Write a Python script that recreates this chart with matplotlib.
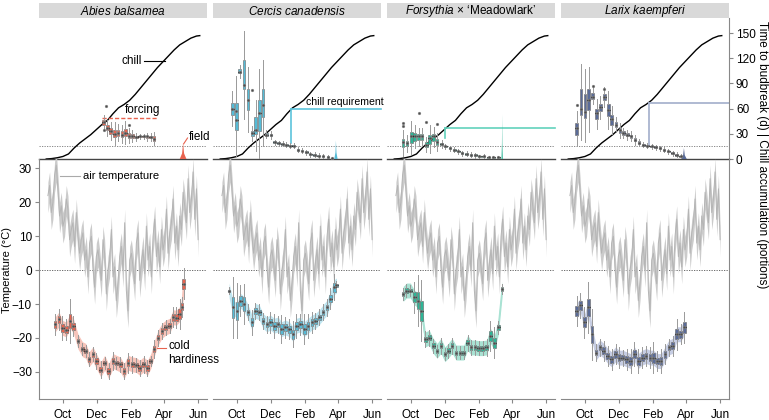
import matplotlib
matplotlib.use("Agg")
import matplotlib.pyplot as plt
import numpy as np

plt.rcParams["font.family"] = ["Liberation Sans", "DejaVu Sans"]
plt.rcParams["font.size"] = 8
plt.rcParams["mathtext.fontset"] = "custom"
plt.rcParams["mathtext.it"] = "Liberation Sans:italic"
plt.rcParams["mathtext.rm"] = "Liberation Sans"

# ---- data (x = days since 1 Sep) ----
month_ticks = [30, 91, 153, 212, 273]
month_labels = ["Oct", "Dec", "Feb", "Apr", "Jun"]

# chill accumulation (portions), same site for all species
chill_days = [0, 10, 20, 30, 40, 50, 60, 70, 80, 90, 100, 110, 120, 130, 140, 150,
              160, 170, 180, 190, 200, 210, 220, 230, 240, 250, 260, 270, 276]
chill_vals = [0, 0.5, 1.5, 3, 6, 13, 19, 24, 29, 35, 41, 46, 54, 61, 65, 70,
              77, 85, 93, 101, 109, 116, 123, 130, 136, 140, 144, 146.5, 147]

# air temperature (°C), every 3rd day from 3 Sep
air_temp = [22, 25, 17, 20, 28, 31, 24, 16, 19, 13,
            15, 21, 18, 9, 12, 14, 7, 17, 10, 5,
            9, 11, 3, 6, -2, 8, 10, 1, -5, 4,
            6, 2, -3, 9, 5, -7, 0, 3, 12, -2,
            1, -9, -4, 4, 7, 0, 14, -6, -12, 3,
            5, 1, -4, 8, 11, -3, 2, 6, -1, 13,
            3, 7, -2, 10, 15, 4, 8, 1, 12, 6,
            9, 18, 5, 11, 14, 21, 8, 13, 6, 16,
            12, 23, 19, 14, 27, 17, 21, 29, 15, 24, 9]

strip_titles = [r"$\it{Abies}$ $\it{balsamea}$", r"$\it{Cercis}$ $\it{canadensis}$",
                r"$\it{Forsythia}$ × ‘Meadowlark’", r"$\it{Larix}$ $\it{kaempferi}$"]
colors = ["#E8634F", "#56BBD6", "#2DB596", "#5A6B97"]
ribbons = ["#F7C4BA", "#BFE5F0", "#A9E2D3", "#C6CDE3"]
req_colors = ["#E8634F", "#5CC4DC", "#62D2BC", "#A2AECB"]

# cold hardiness (°C): sampling day, median, half box height
ch_days = [
    [16, 23, 29, 36, 43, 49, 57, 65, 71, 77, 84, 90, 98, 105, 112, 120, 126, 133,
     140, 147, 155, 162, 168, 175, 182, 188, 194, 201, 208, 215, 222, 228, 234, 240, 244, 247],
    [16, 23, 30, 36, 43, 50, 57, 63, 70, 77, 84, 90, 97, 104, 110, 117, 124, 131,
     137, 144, 151, 158, 165, 171, 178, 185, 192, 198, 205, 209],
    [16, 22, 29, 36, 43, 49, 56, 63, 70, 77, 84, 91, 97, 104, 111, 118, 125, 132,
     138, 145, 152, 159, 166, 173, 180, 187, 194],
    [15, 22, 29, 36, 43, 50, 57, 64, 71, 78, 85, 91, 98, 105, 112, 119, 126, 133,
     140, 147, 153, 160, 167, 174, 181, 188, 195, 202, 209],
]
ch_med = [
    [-16, -14.5, -17, -17.5, -15, -16.5, -21, -23.3, -23.8, -26.3, -24.8, -26.8, -29.3, -27.3,
     -29.8, -26.8, -27.3, -27.8, -29.8, -27.3, -27.8, -28, -28.8, -27.8, -28.8, -26.8, -23.3,
     -19.9, -17.9, -16.9, -16.4, -13.9, -14, -12.9, -10.8, -4],
    [-6, -11, -12, -9, -10, -12.4, -15.4, -12, -12.4, -15, -16, -15.4, -16.4, -16, -17.4,
     -16.9, -17.4, -18.9, -16.4, -16, -17.4, -16.4, -15.4, -15, -13.9, -12.4, -11, -8.4, -5, -4.5],
    [-7, -6, -6, -8, -9, -12, -20.4, -19.9, -22.3, -23.8, -22.3, -24.8, -23.8, -22.3, -24.3,
     -24.3, -24.3, -21.4, -22.8, -22.8, -23, -23, -22.8, -19.4, -21.4, -16.9, -5.5],
    [-12, -10.4, -15.4, -11, -18.9, -24.3, -22.8, -23.8, -25.3, -26.3, -24.8, -25.8, -25.8,
     -26.3, -26.8, -24.8, -26.8, -25.8, -25.3, -25.8, -25.8, -26.8, -26.8, -24.8, -22.8,
     -22.3, -18.9, -18.9, -16.9],
]
ch_half = [
    [1, 1, 1.2, 1, 2.2, 1, 0.6, 0.6, 0.6, 0.7, 0.7, 0.8, 0.8, 0.6, 0.8, 0.9, 0.6, 0.7,
     0.8, 1, 0.8, 0.7, 0.8, 0.8, 0.8, 0.5, 0.9, 0.8, 0.8, 0.7, 0.7, 1, 1, 1.5, 1, 1.5],
    [0.3, 3, 2.7, 1.5, 2, 0.8, 1.2, 0.8, 0.8, 0.8, 0.8, 1, 1.2, 0.8, 1.4, 1, 1, 1.3,
     1.2, 1, 1.5, 1.2, 1, 0.8, 0.8, 0.8, 0.8, 1, 1.3, 0.4],
    [0.6, 0.6, 0.5, 1.5, 2.5, 3, 0.8, 0.8, 0.7, 0.6, 0.8, 0.6, 0.7, 0.8, 0.6, 0.6, 0.6,
     0.8, 0.7, 0.7, 0.7, 0.7, 0.8, 1.5, 1.5, 0.6, 0.5],
    [1.5, 1.2, 1.5, 2.5, 2.5, 0.8, 0.8, 1, 1, 1, 1, 1, 0.8, 1, 1.2, 1.2, 1.2, 1, 1, 1,
     1.5, 1, 1.2, 1, 0.8, 1, 1.5, 1, 1.5],
]

# time to budbreak (d): sampling day, median, q1, q3
bb_days = [
    [103, 110, 116, 123, 129, 136, 142, 149, 155, 162, 168, 175, 181, 188, 194],
    [22, 29, 35, 43, 50, 58, 64, 70, 77, 83, 91, 98, 105, 112, 119, 126, 132, 140,
     147, 155, 162, 170, 177, 185, 194, 201],
    [16, 23, 31, 37, 44, 50, 58, 64, 71, 77, 85, 92, 100, 108, 115, 122, 130, 138,
     146, 153, 161, 170, 178, 187],
    [15, 23, 30, 37, 44, 51, 58, 65, 72, 78, 86, 93, 99, 106, 113, 120, 127, 135,
     142, 150, 157, 165, 172, 180, 188, 195, 202],
]
bb_med = [
    [44, 37, 33, 30, 31, 29, 31, 28, 27, 26, 27, 27, 27, 26, 24],
    [60, 46, 104, 88, 70, 31, 35, 55, 64, 29, 29, 20, 19, 18, 17, 16, 16, 11, 10, 8,
     5.5, 5, 4, 3, 2, 1],
    [20, 19, 27, 27, 27, 27, 17, 25, 27, 20, 18, 15, 13, 11, 9, 7, 6, 5, 4.5, 3, 3, 2, 2, 2],
    [37, 60, 56, 70, 74, 55, 62, 74, 58, 48, 41, 34, 31, 29, 27, 23, 19, 17, 16, 15, 14,
     13, 11, 9, 7, 5, 3],
]
bb_q1 = [
    [41, 34, 30, 26, 28, 26, 27, 25, 25, 25, 26, 26, 25, 25, 22],
    [53, 35, 102, 83, 58, 27, 30, 33, 50, 28, 27, 19, 18, 17, 16, 15, 15, 10, 9, 7,
     4.5, 4, 3, 2, 1, 0.5],
    [14, 15, 19, 22, 23, 23, 14, 18, 22, 17, 16.5, 14, 12, 10, 8, 6, 5, 4, 3.5, 2.5,
     2, 1.5, 1.5, 1.5],
    [29, 53, 49, 58, 72, 48, 57, 70, 51, 41, 38, 31, 29, 27, 25, 21, 18, 16, 15, 14, 13,
     12, 10, 8, 6, 4, 2],
]
bb_q3 = [
    [47, 40, 37, 35, 35, 33, 36, 31, 30, 28, 28, 28, 28, 28, 27],
    [67, 67, 107, 118, 84, 33, 50, 70, 84, 31, 30, 21, 20, 19, 18, 17, 17, 12, 11, 9,
     6.5, 6, 5, 4, 3, 1.5],
    [24, 22, 32, 31, 30, 30, 20, 29, 30, 24, 19.5, 16, 14, 12, 10, 8, 7, 6, 5.5, 3.5,
     4, 2.5, 2.5, 2.5],
    [43, 83, 78, 84, 79, 60, 66, 78, 66, 52, 44, 37, 33, 31, 29, 25, 21, 18, 17, 16, 15,
     14, 12, 10, 8, 6, 4],
]
bb_out_days = [[107, 149, 103], [58, 29, 83], [16, 16, 44, 58, 77], [15, 44, 64]]
bb_out_vals = [[63, 40, 35], [82, 57, 29], [43, 39, 55, 44, 42], [64, 87, 84]]

# field budbreak distribution: peak day, peak height, half width (days)
field_day = [246, 208, 194, 208]
field_peak = [19, 22, 53, 13]
field_half = [6, 3, 1.2, 5]

# chill requirement: day, level, lower end of the vertical
req_day = [None, 128, 91, 145]
req_level = [None, 60, 37, 67]
req_low = [None, 19, 25, 17]
forcing_level = 49
forcing_span = [100, 201]

XLIM = (-13, 289)
W, H = 769, 420
lefts = [39, 213, 387, 561]
pw = 168
DOT = dict(s=4, color="#4d4d4d", edgecolors="#999999", linewidths=0.3, zorder=4)


def boxes(ax, days, med, q1, q3, color, floor=None, width=4.8):
    stats = []
    for m, a, b in zip(med, q1, q3):
        iqr = b - a
        lo = a - iqr
        if floor is not None:
            lo = max(lo, floor)
        stats.append(dict(med=m, q1=a, q3=b, whislo=lo, whishi=b + iqr, fliers=[]))
    ax.bxp(stats, positions=days, widths=width, patch_artist=True, showfliers=False,
           showcaps=False, manage_ticks=False,
           boxprops=dict(facecolor=color, edgecolor="#666666", lw=0.4),
           medianprops=dict(color="black", lw=0.9),
           whiskerprops=dict(color="#999999", lw=0.7), zorder=3)
    ax.scatter(days, med, **DOT)


fig = plt.figure(figsize=(W / 100, H / 100), dpi=100)
fig.patch.set_facecolor("white")

air_days = np.arange(3, 3 + 3 * len(air_temp), 3)
air = np.array(air_temp, dtype=float)

for i in range(4):
    l = lefts[i] / W
    # strip
    sax = fig.add_axes([l, (H - 18) / H, pw / W, 15 / H])
    sax.set_facecolor("#d9d9d9")
    sax.set_xticks([]); sax.set_yticks([])
    for s in sax.spines.values():
        s.set_visible(False)
    sax.text(0.5, 0.45, strip_titles[i], ha="center", va="center", fontsize=8.5,
             transform=sax.transAxes)

    # ---- upper panel ----
    up = fig.add_axes([l, (H - 159) / H, pw / W, 141 / H])
    up.patch.set_alpha(0)
    up.set_xlim(XLIM)
    up.set_ylim(0, 168)
    up.set_xticks([])
    for s in ["top", "left", "right"]:
        up.spines[s].set_visible(False)
    up.spines["bottom"].set_color("#444444")
    up.spines["bottom"].set_linewidth(1.0)
    up.set_yticks([])
    up.axhline(15, color="#777777", ls=(0, (1.5, 1.5)), lw=0.6, zorder=1)
    up.plot(chill_days, chill_vals, color="black", lw=1.0, zorder=2)

    # field distribution
    fd, fp, fh = field_day[i], field_peak[i], field_half[i]
    up.fill([fd - fh, fd - fh * 0.3, fd, fd + fh * 0.3, fd + fh],
            [0, fp * 0.35, fp, fp * 0.35, 0], color=colors[i], lw=0, zorder=3)

    if req_day[i] is not None:
        rc = req_colors[i]
        up.plot([req_day[i], req_day[i]], [req_low[i], req_level[i]], color=rc, lw=1.2, zorder=2)
        up.plot([req_day[i], XLIM[1]], [req_level[i], req_level[i]], color=rc, lw=1.2,
                zorder=2, clip_on=False)
    else:
        up.plot(forcing_span, [forcing_level, forcing_level], color=colors[i], lw=1.0,
                ls=(0, (3, 1.5)), zorder=2)

    boxes(up, bb_days[i], bb_med[i], bb_q1[i], bb_q3[i], colors[i], floor=0)
    up.scatter(bb_out_days[i], bb_out_vals[i], **DOT)

    # ---- lower panel ----
    lo = fig.add_axes([l, 21 / H, pw / W, 240 / H])
    lo.set_xlim(XLIM)
    lo.set_ylim(-38, 32.8)
    lo.patch.set_alpha(0)
    lo.spines["top"].set_visible(False)
    lo.spines["right"].set_visible(i == 3)
    lo.spines["left"].set_visible(i == 0)
    for s in lo.spines.values():
        s.set_color("#888888")
        s.set_linewidth(0.8)
    lo.set_xticks(month_ticks)
    lo.set_xticklabels(month_labels, fontsize=8.5)
    lo.tick_params(axis="x", length=3, color="#888888", pad=4)
    if i == 0:
        lo.set_yticks([-30, -20, -10, 0, 10, 20, 30])
        lo.set_yticklabels(["\u221230", "\u221220", "\u221210", "0", "10", "20", "30"],
                           fontsize=8.5)
        lo.tick_params(axis="y", length=3, color="#888888", pad=2)
    else:
        lo.set_yticks([])
    lo.axhline(0, color="#555555", ls=(0, (1.5, 1.5)), lw=0.6, zorder=1)
    lo.fill_between(air_days, air - 5, air + 4, color="#cbcbcb", lw=0, zorder=1)
    lo.plot(air_days, air, color="#b5b5b5", lw=0.7, zorder=1)

    med = np.array(ch_med[i])
    half = np.array(ch_half[i])
    lo.fill_between(ch_days[i], med - 2.2, med + 2.2, color=ribbons[i], lw=0, zorder=2)
    lo.plot(ch_days[i], med, color=ribbons[i], lw=1.0, zorder=2)
    boxes(lo, ch_days[i], med, med - half, med + half, colors[i])

    if i == 3:
        up.spines["right"].set_visible(True)
        up.spines["right"].set_color("#888888")
        up.spines["right"].set_linewidth(0.8)
        up.yaxis.set_ticks_position("right")
        up.set_yticks([0, 30, 60, 90, 120, 150])
        up.tick_params(axis="y", length=3, color="#888888", labelsize=8.5, pad=2)

    if i == 0:
        # annotations
        up.plot([176, 214], [117, 117], color="black", lw=0.8)
        up.text(172, 117, "chill", ha="right", va="center", fontsize=8.5)
        up.text(174, 51, "forcing", ha="center", va="bottom", fontsize=8.5)
        up.plot([254, 247], [25, 18], color=colors[0], lw=0.8)
        up.text(256, 26, "field", ha="left", va="center", fontsize=8.5)
        lo.plot([25, 61], [27.8, 27.8], color="#aaaaaa", lw=0.8)
        lo.text(66, 27.8, "air temperature", ha="left", va="center", fontsize=8)
        lo.plot([199, 215], [-23, -23], color=colors[0], lw=0.8)
        lo.text(219, -20.6, "cold\nhardiness", ha="left", va="top", fontsize=8.5,
                linespacing=1.2)
    if i == 1:
        up.text(155, 62, "chill requirement", ha="left", va="bottom", fontsize=7.6)

fig.text(7 / W, (H - 270) / H, "Temperature (°C)", rotation=90, ha="center", va="center",
         fontsize=8)
fig.text(762 / W, (H - 155) / H, "Time to budbreak (d) | Chill accumulation (portions)",
         rotation=-90, ha="center", va="center", fontsize=8.5)

fig.savefig("out.png", dpi=100)
